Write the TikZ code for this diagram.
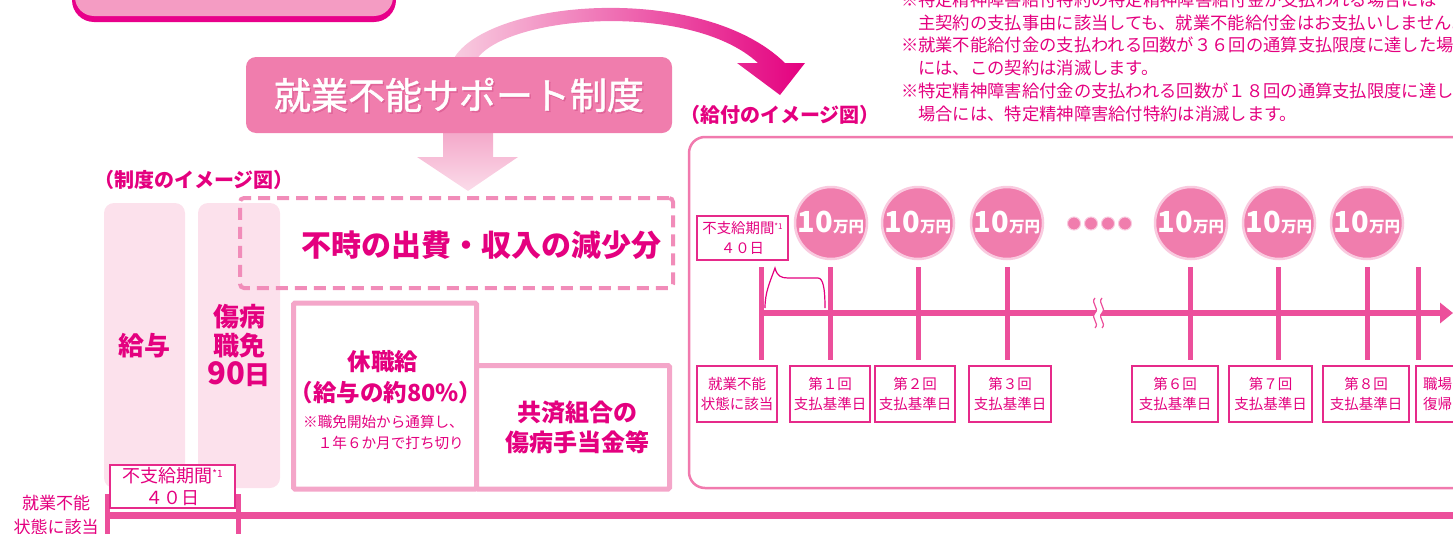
\documentclass[tikz,border=0pt]{standalone}
\usepackage{fontspec}
\setmainfont{Noto Sans CJK JP}
\newfontfamily\titlefont[FakeBold=1.2]{Noto Sans CJK JP}
\usetikzlibrary{arrows.meta}
\definecolor{mag}{HTML}{E4007F}
\definecolor{tline}{HTML}{EC4F9B}
\definecolor{boxpink}{HTML}{F07DAD}
\definecolor{glow}{HTML}{F9CADF}
\definecolor{colfill}{HTML}{FCE1EC}
\definecolor{bord}{HTML}{F4A6C9}
\definecolor{dashc}{HTML}{F18CB9}
\definecolor{panelc}{HTML}{F17AAE}
\definecolor{topfill}{HTML}{F49CC3}
\definecolor{topedge}{HTML}{E8008A}
\definecolor{arrlt}{HTML}{F8CDE0}
\definecolor{downtop}{HTML}{F4A9CA}
\definecolor{downbot}{HTML}{FBDCEA}
\definecolor{lblc}{HTML}{E62A8A}
\definecolor{tshadow}{HTML}{D9578F}
\newcommand{\fsz}[1]{\fontsize{#1}{#1}\selectfont}
\begin{document}
\begin{tikzpicture}[x=1pt,y=-1pt,
  every node/.style={inner sep=0pt,outer sep=0pt},
  col/.style={fill=colfill,rounded corners=10pt,text=mag,align=center,font=\fontsize{26}{29}\selectfont\bfseries},
  benefit/.style={draw=bord,line width=5pt,fill=white,rounded corners=1.5pt},
  lblbox/.style={draw=lblc,line width=1.2pt,fill=white,text=mag,align=center,font=\fontsize{14.5}{20}\selectfont,minimum height=56pt},
  coin/.style={circle,fill=boxpink,minimum size=72pt,text=white,draw=glow,line width=2.5pt},
  dot/.style={circle,fill=boxpink,minimum size=13pt,draw=glow,line width=1pt},
  tk/.style={tline,line width=5pt},
  note/.style={text=mag,anchor=base west,font=\fsz{17.3}},
  caption/.style={text=mag,font=\fsz{20}\bfseries},
]
\useasboundingbox (0,0) rectangle (1453,533);

% cut-off box at top left
\fill[topedge,rounded corners=22pt] (72,-60) rectangle (396,22);
\fill[topfill,rounded corners=19pt] (75,-60) rectangle (393,16);

% notes
\node[note] (n1) at (901,6.5) {※特定精神障害給付特約の特定精神障害給付金が支払われる場合には};
\node[note] (n2) at (901,29.2) {　主契約の支払事由に該当しても、就業不能給付金はお支払いしません。};
\node[note] (n3) at (901,51.9) {※就業不能給付金の支払われる回数が３６回の通算支払限度に達した場合};
\node[note] (n4) at (901,74.6) {　には、この契約は消滅します。};
\node[note] (n5) at (901,97.3) {※特定精神障害給付金の支払われる回数が１８回の通算支払限度に達した};
\node[note] (n6) at (901,120) {　場合には、特定精神障害給付特約は消滅します。};

% big curved arrow
\shade[left color=arrlt,right color=mag]
  (452,62) .. controls (480,0) and (700,-20) .. (785,63) -- (805,63) -- (780,95) -- (737,63) -- (758,63)
  .. controls (690,0) and (500,15) .. (475,62) -- cycle;

% down arrow
\shade[top color=downtop,bottom color=downbot]
  (443,133) -- (493,133) -- (493,157) -- (518,157) -- (468,191) -- (417,157) -- (443,157) -- cycle;

% title box
\node[fill=boxpink,rounded corners=10pt,minimum width=426pt,minimum height=76pt] (title) at (459,95) {};
\node[text=tshadow,opacity=0.6,font=\titlefont\fsz{37}] (titles) at (460.5,96.5) {就業不能サポート制度};
\node[text=white,font=\titlefont\fsz{37}] (titlet) at (459,95) {就業不能サポート制度};

% captions
\node[caption] (cap1) at (194,180) {（制度のイメージ図）};
\node[caption] (cap2) at (780,115) {（給付のイメージ図）};

% columns
\node[col,minimum width=81pt,minimum height=285pt] (c1) at (144.5,345.5) {給与};
\node[col,minimum width=82pt,minimum height=285pt] (c2) at (239,345.5) {傷病\\職免\\{\fsz{31}90}日};

% dashed box
\node[draw=dashc,line width=4pt,dash pattern=on 12pt off 7pt,rounded corners=4pt,minimum width=433pt,minimum height=90pt] (dbox) at (456.5,243) {};
\node[text=mag,font=\fsz{30}\bfseries] (dtext) at (481,245) {不時の出費・収入の減少分};

% benefit boxes
\node[benefit,minimum width=183pt,minimum height=186pt] (kyu) at (385,396) {};
\node[benefit,minimum width=193pt,minimum height=123.5pt] (kyo) at (573,427.25) {};
\node[text=mag,font=\fsz{23.5}\bfseries] (k1) at (383,362) {休職給};
\node[text=mag,font=\fsz{23.5}\bfseries] (k2) at (386,393) {（給与の約80\%）};
\node[text=mag,font=\fontsize{14.6}{21}\selectfont,align=left] (k3) at (383.5,432.5) {※職免開始から通算し、\\　１年６か月で打ち切り};
\node[text=mag,font=\fontsize{24}{30}\selectfont\bfseries,align=center] (ky) at (577,427) {共済組合の\\傷病手当金等};

% bottom-left timeline
\coordinate (bl0) at (106,515);
\coordinate (bl1) at (1453,515);
\draw[tline,line width=7pt] (bl0) -- (bl1);
\coordinate (bt1a) at (107,494); \coordinate (bt1b) at (107,540);
\coordinate (bt2a) at (238,494); \coordinate (bt2b) at (238,540);
\draw[tk] (bt1a) -- (bt1b);
\draw[tk] (bt2a) -- (bt2b);
\node[text=mag,font=\fontsize{17}{24}\selectfont,align=center] (st) at (56,515) {就業不能\\状態に該当};
\node[draw=lblc,line width=1.2pt,fill=white,text=mag,align=center,font=\fontsize{18}{22}\selectfont,minimum width=125pt,minimum height=43pt] (nf1) at (172.5,486.5) {不支給期間\raisebox{5pt}{\fsz{10}*1}\\４０日};

% right panel
\draw[panelc,line width=2.5pt,fill=white,rounded corners=16pt] (689,137) rectangle (1520,488);

% timeline
\coordinate (r0) at (759,313);
\coordinate (r1) at (1453,313);
\draw[tline,line width=5.5pt,-{Triangle[length=13pt,width=20pt]}] (r0) -- (r1);

% break mark
\fill[white] (1095,298) .. controls (1090,303) and (1100,308) .. (1095,313) .. controls (1090,318) and (1100,323) .. (1095,328)
  -- (1102,328) .. controls (1107,323) and (1097,318) .. (1102,313) .. controls (1107,308) and (1097,303) .. (1102,298) -- cycle;
\draw[tline,line width=1.2pt] (1095,298) .. controls (1090,303) and (1100,308) .. (1095,313) .. controls (1090,318) and (1100,323) .. (1095,328);
\draw[tline,line width=1.2pt] (1102,298) .. controls (1097,303) and (1107,308) .. (1102,313) .. controls (1097,318) and (1107,323) .. (1102,328);

% ticks
\foreach \x [count=\i] in {761,830,918,1007,1190,1278,1367,1418} {
  \coordinate (t\i a) at (\x,267);
  \coordinate (t\i b) at (\x,360);
  \draw[tk] (t\i a) -- (t\i b);
}

% coins
\foreach \x [count=\i] in {831,918,1007,1191,1279,1367} {
  \node[coin] (coin\i) at (\x,223) {{\fsz{29}\bfseries 10}{\fsz{15.5}\bfseries 万円}};
}
\foreach \x [count=\i] in {1074,1091,1108,1125} {
  \node[dot] (d\i) at (\x,223.5) {};
}

% brace
\draw[mag,line width=1.2pt] (765,308) .. controls (765,292) and (770,282) .. (775,268)
  .. controls (777,276) and (781,278) .. (788,278) -- (818,278)
  .. controls (823,278) and (825,288) .. (825,308);

% non-payment box (panel)
\node[draw=lblc,line width=1.2pt,fill=white,text=mag,align=center,font=\fontsize{14.4}{20}\selectfont,minimum width=91pt,minimum height=44pt] (nf2) at (742.5,238) {不支給期間\raisebox{4pt}{\fsz{8}*1}\\４０日};

% bottom label boxes
\node[lblbox,minimum width=80pt] (b0) at (737,394) {就業不能\\状態に該当};
\node[lblbox,minimum width=80pt] (b1) at (830,394) {第１回\\支払基準日};
\node[lblbox,minimum width=80pt] (b2) at (915,394) {第２回\\支払基準日};
\node[lblbox,minimum width=82pt] (b3) at (1010,394) {第３回\\支払基準日};
\node[lblbox,minimum width=86pt] (b6) at (1175,394) {第６回\\支払基準日};
\node[lblbox,minimum width=83pt] (b7) at (1270.5,394) {第７回\\支払基準日};
\node[lblbox,minimum width=86pt] (b8) at (1366,394) {第８回\\支払基準日};
\node[lblbox,minimum width=80pt,text width=66pt,align=left] (b9) at (1456,394) {職場\\復帰};
\end{tikzpicture}
\end{document}
